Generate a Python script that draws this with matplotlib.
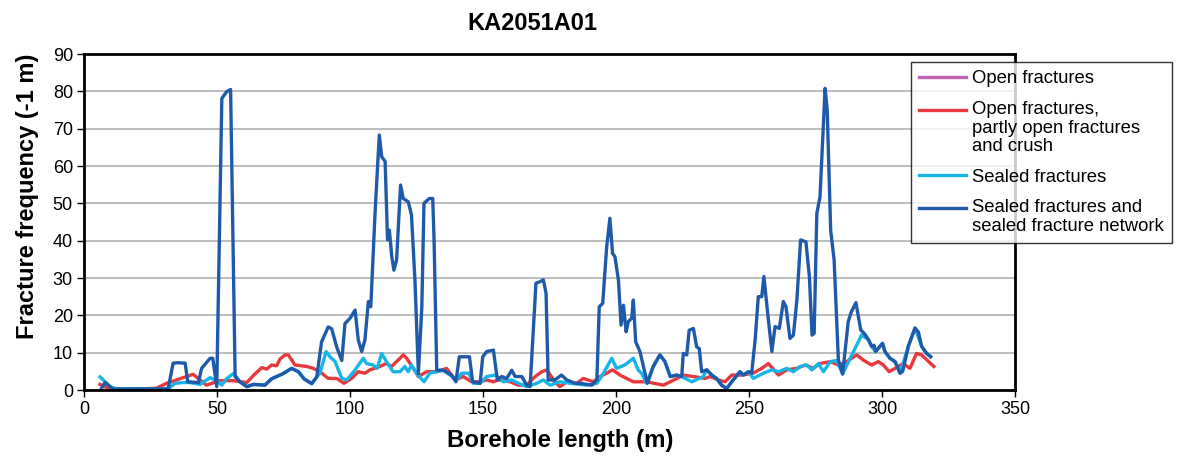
import matplotlib
matplotlib.use("Agg")
import matplotlib.pyplot as plt
from matplotlib.legend_handler import HandlerLine2D

plt.rcParams['font.family'] = ['Liberation Sans', 'DejaVu Sans']

# borehole length (m) / fracture frequency (1/m)
open_x = []
open_y = []

crush_x = [6, 9, 15, 22, 27.3, 31, 34.8, 38, 41, 43.6,
           46, 51, 56, 61.2, 63.7, 66.8, 68.7, 70.5, 72.4, 73.7,
           75.6, 76.8, 79.3, 83.7, 86.2, 88.7, 91.8, 95, 97.7, 100.6,
           103.1, 105.6, 107.5, 111.2, 113.7, 115.6, 118.8, 120, 121.3, 123.8,
           125.7, 128.8, 132.6, 136.3, 139.5, 142.6, 145.7, 148.9, 151.4, 153.9,
           155.8, 160.2, 163.3, 166.4, 169.6, 172.1, 174, 177, 178.9, 181.5,
           185.2, 187.7, 191.5, 194, 196.5, 198.7, 201.5, 204, 206.5, 211.5,
           217.8, 220.4, 225.3, 229.1, 233.5, 235.4, 238.5, 241, 243.5, 247.3,
           251.6, 254.8, 257.3, 261.1, 264.2, 268, 271.1, 274.2, 276.7, 280.5,
           283.6, 286.7, 290.5, 293, 296.1, 298.6, 300.5, 302.7, 304.9, 308,
           310.5, 313, 314.9, 318.3, 319.5]
crush_y = [1.5, 0.5, 0.3, 0.3, 0.5, 1.8, 2.7, 3.5, 4.2, 2.7,
           1.3, 2.5, 2.5, 2, 3.9, 6, 5.6, 6.7, 6.5, 8.3,
           9.4, 9.4, 6.7, 6.3, 5.8, 4.9, 3.1, 3.1, 1.8, 3.1,
           4.9, 4.5, 5.4, 6.3, 7.1, 6.3, 8.5, 9.4, 8.5, 5.8,
           3.6, 4.9, 4.9, 5.8, 2.7, 3.6, 2.2, 2.2, 2.7, 2.2,
           2.7, 2.2, 1.3, 1.3, 3.6, 4.9, 5.4, 2.2, 0.9, 2.2,
           1.8, 3.1, 2.2, 3.6, 4.5, 5.4, 4, 3.1, 2.2, 2.2,
           1.3, 2.2, 4, 3.6, 3.1, 3.6, 2.7, 2.2, 4, 4,
           4.5, 5.8, 7.1, 4, 5.4, 5.8, 6.7, 5.8, 7.1, 7.6,
           6.7, 7.6, 9.4, 8, 6.7, 7.6, 6.7, 4.9, 5.8, 7.1,
           5.8, 9.8, 9.4, 7.1, 6.3]

sealed_x = [6, 9.8, 12, 20, 30, 32, 34.2, 37.3, 39.8, 43.6,
            47.4, 49.9, 51.8, 53.6, 56.1, 57.3, 58.6, 61.2, 63.7, 68,
            70.5, 73.7, 74.9, 78, 80.6, 82.7, 85.6, 87.5, 88.7, 91,
            92.5, 94.4, 96.9, 98.8, 101.9, 105, 106.2, 108.7, 110.2, 111.9,
            113.7, 116.2, 118.8, 120.6, 121.9, 123.1, 125, 127.8, 130, 135,
            137.6, 140.1, 142, 144.6, 146.4, 148.9, 151.4, 154.5, 157.7, 160.8,
            163.3, 166.4, 170.2, 172.7, 175.2, 179, 182.7, 189, 192.8, 195.3,
            198.4, 200.2, 203.3, 206.5, 208.4, 209.6, 211.5, 214, 216.5, 218.4,
            220.4, 222.8, 224.7, 228.5, 232.8, 234.1, 236, 237.8, 239.7, 241.6,
            243.5, 246.6, 247.9, 249.8, 251.6, 255.4, 258.6, 261.1, 264.2, 266.7,
            269.2, 271.7, 273.6, 276.1, 278, 280.5, 283, 285.2, 292.3, 294.9,
            296.1, 297.6, 300.2, 301.1, 303, 304.9, 306.8, 309.9, 312.4, 314.9,
            316.8, 318.3]
sealed_y = [3.5, 0.9, 0.3, 0.3, 0.3, 0.5, 1.8, 2, 2, 1.5,
            3.3, 2.5, 1.3, 3, 4.4, 3.5, 2.2, 0.9, 1.5, 1.3,
            3, 4, 4.4, 5.8, 4.9, 3, 1.7, 3.5, 4.5, 10.3,
            8.9, 7.6, 3.1, 2.7, 5.4, 8.5, 7.1, 6.7, 5.8, 9.8,
            7.6, 4.9, 4.9, 6.3, 4.9, 6.7, 4.5, 2.2, 4.5, 5.3,
            4, 2.7, 4.5, 4.5, 1.8, 1.8, 3.6, 4, 2.2, 2.7,
            1.8, 0.9, 1.8, 2.7, 1.3, 2.2, 1.8, 1.3, 1.8, 4.5,
            8.5, 5.8, 6.7, 8.5, 5.3, 4.5, 1.8, 6.3, 9.4, 7.6,
            3.6, 4, 3.6, 2.2, 3.6, 5.4, 4, 3.1, 1.3, 0.4,
            2.2, 4.9, 4, 4.9, 3.1, 4.5, 5.4, 4.9, 5.8, 4.9,
            6.3, 6.7, 5.4, 7.1, 4.9, 7.6, 7.9, 4.3, 14.7, 13.5,
            11.7, 10.3, 12.5, 10.3, 8.5, 7.6, 4.5, 11.7, 16.6, 11.7,
            9.8, 8.9]

network_x = [6.6, 7.9, 11, 20, 31.6, 33.5, 35, 38, 39, 43,
             44.2, 47.4, 48.4, 49.9, 51.8, 53.6, 55.1, 56.8, 58.6, 61.2,
             63.7, 68, 70.5, 73.7, 74.9, 78, 80.6, 82.7, 85.6, 87.5,
             89.3, 91.8, 93.1, 95, 96.9, 98.1, 100, 101.9, 103.1, 104.4,
             105.6, 106.9, 107.8, 109.4, 111, 111.9, 113.2, 114.1, 114.8, 115.7,
             116.5, 117.5, 119, 120, 121.9, 123.1, 124.4, 125.7, 127, 127.8,
             129.8, 131.1, 131.6, 132.6, 135.1, 138.2, 139.8, 141.1, 144.9, 146.1,
             148.9, 149.9, 151.4, 153.9, 155.4, 157, 158.9, 160.8, 162.1, 164.6,
             166.4, 167.7, 168.9, 169.9, 171.4, 172.7, 173.7, 174.5, 177, 179.5,
             181.5, 184.6, 186.5, 190.9, 192.8, 193.7, 195, 196.5, 197.7, 198.7,
             199.6, 200.9, 201.9, 202.8, 203.8, 204.6, 205.9, 206.5, 207.4, 209,
             210.5, 211.8, 214, 216.5, 218.4, 220.4, 222.8, 224.7, 225.3, 226.6,
             227.5, 229.1, 230.3, 231.3, 232.2, 234.1, 236, 237.8, 239.7, 241.6,
             243.5, 246.6, 247.9, 249.8, 251, 252.3, 253.5, 254.8, 255.6, 256.9,
             258.6, 259.8, 261.4, 262.9, 263.9, 265.4, 266.7, 268, 269.4, 271.4,
             272.7, 273.7, 274.5, 275.5, 276.7, 277.7, 278.6, 279.4, 280.7, 282,
             283.6, 285.2, 287.3, 288.5, 290.2, 292, 293.5, 294.9, 296.1, 297,
             297.6, 300.2, 301.1, 303, 304.9, 306.8, 307.8, 309.9, 312.4, 313.7,
             314.9, 316.8, 318.3]
network_y = [0.5, 2, 0.2, 0.3, 0.3, 7.2, 7.3, 7.2, 2.2, 2,
             5.8, 8.5, 8.5, 0.9, 78.1, 79.9, 80.5, 3.6, 2.2, 0.9,
             1.5, 1.3, 3, 4, 4.4, 5.8, 4.9, 3, 1.7, 3.5,
             12.9, 16.9, 16.4, 11.5, 7.9, 17.8, 19.2, 21.4, 13.4, 10.3,
             13.4, 23.7, 22.3, 47.3, 68.3, 62.5, 61.2, 40.2, 42.8, 35.7,
             32.1, 34.8, 54.9, 51.3, 50.4, 46.9, 29.5, 4.4, 22.3, 50,
             51.3, 51.3, 40, 5.3, 5.3, 4, 2.2, 8.9, 8.9, 2.2,
             1.8, 8.9, 10.3, 10.7, 2.7, 3.6, 3.1, 5.3, 3.6, 3.6,
             1.3, 0.9, 16, 28.6, 29, 29.5, 25.9, 2.7, 2.7, 4,
             2.7, 1.8, 1.8, 1.3, 2.7, 22.3, 23.2, 38.4, 46, 36.6,
             35.7, 29.5, 17.4, 22.7, 15.6, 18.3, 19.2, 24.1, 12.9, 10.3,
             5.8, 1.8, 6.3, 9.4, 7.6, 3.6, 4, 3.6, 9.8, 9.4,
             16, 16.5, 11.6, 11.1, 4.9, 5.4, 4, 3.1, 1.3, 0.4,
             2.2, 4.9, 4, 4.9, 4.5, 13.4, 25, 25, 30.4, 21.4,
             10.3, 17, 16.5, 23.7, 22.3, 13.8, 14.7, 24.1, 40.2, 39.7,
             30.4, 14.7, 15.2, 47.3, 51.8, 67, 80.8, 75, 42.8, 34.8,
             8, 4.3, 18.3, 21, 23.4, 16.1, 15, 13.5, 11.7, 12,
             10.3, 12.5, 10.3, 8.5, 7.6, 4.5, 5, 11.7, 16.6, 15.5,
             11.7, 9.8, 8.9]

labels = ["Open fractures",
          "Open fractures,\npartly open fractures\nand crush",
          "Sealed fractures",
          "Sealed fractures and\nsealed fracture network"]
colors = ["#c060b4", "#e8383d", "#17b4e6", "#1f5aaa"]

LINESP = 1.12


# legend handle lined up with the first line of a multi-line label (like Excel)
class TopLineHandler(HandlerLine2D):
    def __init__(self, nlines, **kw):
        super().__init__(**kw)
        self.nlines = nlines

    def create_artists(self, legend, orig_handle, xdescent, ydescent,
                       width, height, fontsize, trans):
        arts = super().create_artists(legend, orig_handle, xdescent, ydescent,
                                      width, height, fontsize, trans)
        shift = (self.nlines - 1) / 2 * fontsize * 1.0
        for a in arts:
            a.set_ydata([y + shift for y in a.get_ydata()])
        return arts


fig = plt.figure(figsize=(11.82, 4.57), dpi=100)
ax = fig.add_axes([0.0711, 0.1466, 0.7876, 0.7352])

series = [(open_x, open_y), (crush_x, crush_y), (sealed_x, sealed_y), (network_x, network_y)]
lines = []
for (xs, ys), lab, c in zip(series, labels, colors):
    ln, = ax.plot(xs, ys, color=c, lw=2.4, label=lab, solid_joinstyle='round')
    lines.append(ln)

ax.set_xlim(0, 350)
ax.set_ylim(0, 90)
ax.set_xticks(range(0, 351, 50))
ax.set_yticks(range(0, 91, 10))
ax.yaxis.grid(True, color="#bdbdbd", lw=1.4)
ax.set_axisbelow(True)
for s in ax.spines.values():
    s.set_linewidth(2)
ax.tick_params(labelsize=13, width=1, length=5, direction='out', pad=3)

ax.set_xlabel("Borehole length (m)", fontsize=17.3, fontweight='bold', labelpad=8, x=0.511)
ax.set_ylabel("Fracture frequency (-1 m)", fontsize=17, fontweight='bold', labelpad=10, y=0.577)
ax.set_title("KA2051A01", fontsize=17, fontweight='bold', x=0.482, pad=17)

hmap = {ln: TopLineHandler(lab.count("\n") + 1) for ln, lab in zip(lines, labels)}
leg = fig.legend(lines, labels, handler_map=hmap, loc='upper left',
                 bbox_to_anchor=(0.7707, 0.8643), fontsize=13.3,
                 frameon=True, fancybox=False, edgecolor='black', handlelength=2.55,
                 labelspacing=0.74, borderpad=0.45, handletextpad=0.28, borderaxespad=0)
leg.get_frame().set_linewidth(1)
for t in leg.get_texts():
    t.set_linespacing(LINESP)

fig.savefig("out.png", dpi=100)
